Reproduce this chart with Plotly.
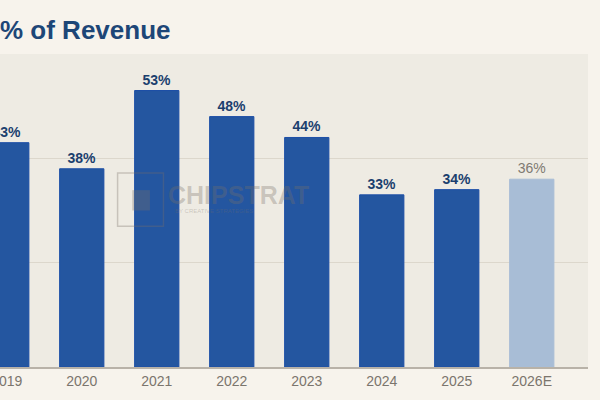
import plotly.graph_objects as go

# values
years = ["2019", "2020", "2021", "2022", "2023", "2024", "2025", "2026E"]
pct_of_revenue = [43, 38, 53, 48, 44, 33, 34, 36]
is_estimate = [False, False, False, False, False, False, False, True]

bar_colors = ["#a8bdd6" if e else "#2456a0" for e in is_estimate]
line_colors = ["#a8bdd6" if e else "#1c4ea6" for e in is_estimate]
label_colors = ["#807a72" if e else "#1b3f6e" for e in is_estimate]
labels = [
    f"{v}%" if e else f"<b>{v}%</b>" for v, e in zip(pct_of_revenue, is_estimate)
]

fig = go.Figure(
    go.Bar(
        x=years,
        y=pct_of_revenue,
        width=0.59,
        marker=dict(color=bar_colors, line=dict(color=line_colors, width=1)),
        text=labels,
        textposition="outside",
        textfont=dict(size=14, color=label_colors),
        cliponaxis=True,
        hoverinfo="skip",
    )
)

fig.update_layout(
    width=600,
    height=400,
    margin=dict(l=0, r=12, t=54, b=33),
    paper_bgcolor="#f7f3ec",
    plot_bgcolor="#eeebe3",
    font=dict(family="Arial, Liberation Sans, sans-serif"),
    showlegend=False,
    title=dict(
        text="<b>% of Revenue</b>",
        font=dict(size=26, color="#1d4677"),
        xref="container",
        x=0,
        xanchor="left",
        yref="container",
        y=0.925,
        yanchor="middle",
    ),
)

fig.update_xaxes(
    type="category",
    range=[-0.09, 7.75],
    automargin=False,
    showline=True,
    linecolor="#b8b2a8",
    linewidth=1.5,
    ticks="",
    tickfont=dict(size=14, color="#7b756d"),
    showgrid=False,
)
fig.update_yaxes(
    range=[0, 60],
    dtick=20,
    automargin=False,
    showticklabels=False,
    gridcolor="#dcd7cc",
    gridwidth=1,
    zeroline=False,
)

# faint watermark
wm = "rgba(120,112,104,0.33)"
fig.add_annotation(
    text="<b>CHIPSTRAT</b>",
    xref="paper",
    yref="paper",
    x=0.405,
    y=0.55,
    showarrow=False,
    font=dict(size=25, color=wm),
)
fig.add_annotation(
    text="BY CREATIVE STRATEGIES",
    xref="paper",
    yref="paper",
    x=0.294,
    xanchor="left",
    y=0.50,
    showarrow=False,
    font=dict(size=6, color=wm),
)
fig.add_shape(
    type="rect",
    xref="paper",
    yref="paper",
    x0=0.2,
    x1=0.278,
    y0=0.45,
    y1=0.62,
    line=dict(color=wm, width=1.5),
    layer="above",
)
fig.add_shape(
    type="rect",
    xref="paper",
    yref="paper",
    x0=0.225,
    x1=0.255,
    y0=0.50,
    y1=0.565,
    fillcolor=wm,
    line=dict(width=0),
    layer="above",
)

fig.write_html(
    "out.html",
    config={"displayModeBar": False},
    post_script="document.body.style.margin = '0';",
)
